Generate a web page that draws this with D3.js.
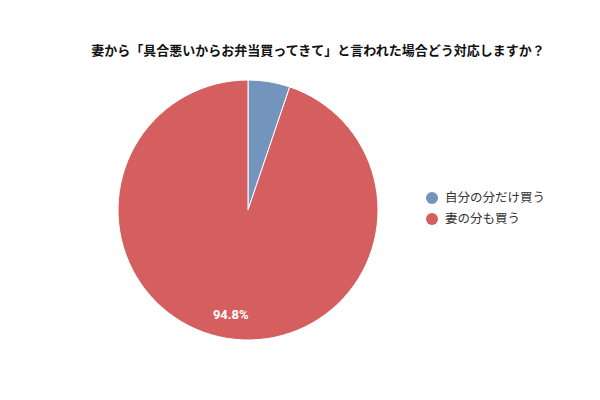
<!DOCTYPE html>
<html>
<head>
<meta charset="utf-8">
<script src="https://cdn.jsdelivr.net/npm/d3@7"></script>
<style>
  body { margin: 0; background: #fff; }
  svg { font-family: "Noto Sans CJK JP", "Noto Sans", sans-serif; }
</style>
</head>
<body>
<script>
const categories = ['自分の分だけ買う', '妻の分も買う'];
const values = [5.2, 94.8];
const colors = ['#7395bd', '#d45f5e'];
const titleText = '妻から「具合悪いからお弁当買ってきて」と言われた場合どう対応しますか？';

const width = 600;
const height = 400;
const cx = 248, cy = 210, radius = 130;

const svg = d3.select('body').append('svg')
  .attr('width', width)
  .attr('height', height);

// title
svg.append('text')
  .attr('x', 318)
  .attr('y', 55)
  .attr('text-anchor', 'middle')
  .style('font-size', '13px')
  .style('font-weight', 'bold')
  .style('fill', '#111')
  .text(titleText);

const data = categories.map((c, i) => ({ name: c, value: values[i], color: colors[i] }));

const pie = d3.pie().sort(null).value(d => d.value);
const arc = d3.arc().innerRadius(0).outerRadius(radius);
const labelArc = d3.arc().innerRadius(106).outerRadius(106);

const g = svg.append('g').attr('transform', `translate(${cx}, ${cy})`);

const slices = pie(data);

g.selectAll('path').data(slices)
  .enter().append('path')
  .attr('d', arc)
  .attr('fill', d => d.data.color)
  .attr('stroke', '#fff')
  .attr('stroke-width', 1);

// only the big slice carries a label
g.selectAll('text.lbl').data(slices.filter(d => d.data.value > 10))
  .enter().append('text')
  .attr('class', 'lbl')
  .attr('transform', d => `translate(${labelArc.centroid(d)})`)
  .attr('text-anchor', 'middle')
  .attr('dy', '0.35em')
  .style('font-family', 'Roboto, "Noto Sans", sans-serif')
  .style('font-size', '13px')
  .style('font-weight', 'bold')
  .style('fill', '#fff')
  .text(d => d.data.value + '%');

// legend
const legend = svg.append('g').attr('transform', 'translate(432, 198)');
const items = legend.selectAll('g').data(data)
  .enter().append('g')
  .attr('transform', (d, i) => `translate(0, ${i * 21})`);

items.append('circle')
  .attr('r', 6)
  .attr('fill', d => d.color);

items.append('text')
  .attr('x', 13)
  .attr('dy', '0.35em')
  .style('font-size', '12.5px')
  .style('fill', '#333')
  .text(d => d.name);
</script>
</body>
</html>
